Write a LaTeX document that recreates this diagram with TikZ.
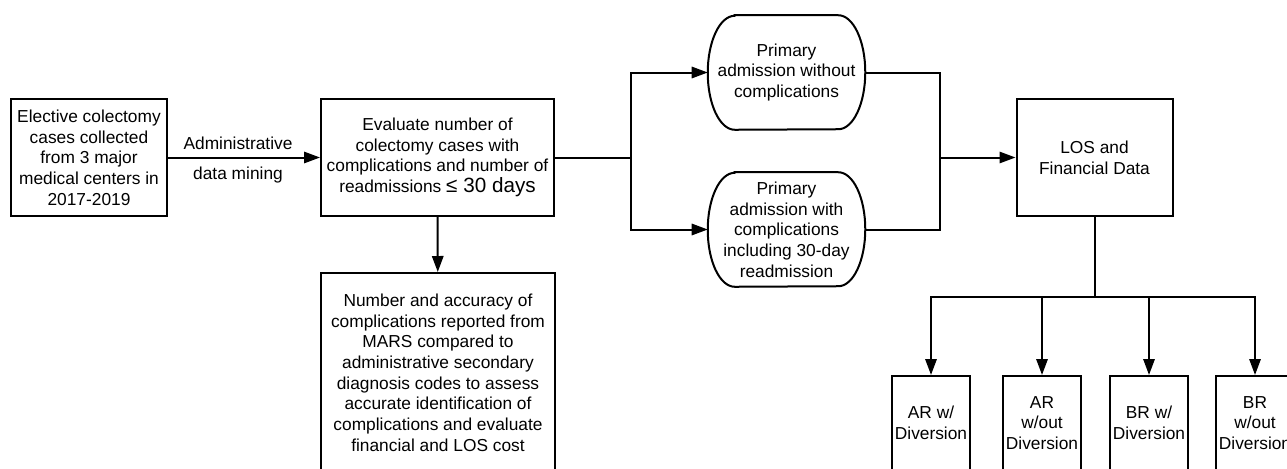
\documentclass[tikz,border=0pt]{standalone}
\usepackage{fontspec}
\setmainfont{Liberation Sans}
\usetikzlibrary{arrows.meta,calc}
\tikzset{
  ln/.style={line width=1.5pt,black},
  arr/.style={ln,-{Triangle[length=12pt,width=8.5pt]}},
  txt/.style={font=\fontsize{13pt}{15.5pt}\selectfont,align=center,inner sep=0pt},
  box/.style={txt,draw,line width=1.5pt,rectangle},
}
\newcommand\ovalframe[1]{%
  \draw[ln] ($(#1.north west)+(27,0)$) -- ($(#1.north east)+(-27,0)$)
    arc[start angle=90,end angle=-90,x radius=20.25pt,y radius=42.75pt]
    -- ($(#1.south west)+(27,0)$)
    arc[start angle=270,end angle=90,x radius=20.25pt,y radius=42.75pt] -- cycle;}
\begin{document}
\begin{tikzpicture}[x=0.75pt,y=0.75pt]
\useasboundingbox[fill=white] (0,0) rectangle (1287,-468);
% boxes
\node[box,minimum width=117pt,minimum height=87.75pt] (b1) at (89,-157.5)
  {Elective colectomy\\cases collected\\from 3 major\\medical centers in\\2017-2019};
\node[box,minimum width=174.75pt,minimum height=87.75pt] (b2) at (437.5,-157.5)
  {Evaluate number of\\colectomy cases with\\complications and number of\\readmissions {\fontsize{15.5pt}{17pt}\selectfont ≤ 30 days}};
\node[box,minimum width=175.5pt,minimum height=149.25pt] (b3) at (438,-372.5)
  {Number and accuracy of\\complications reported from\\MARS compared to\\administrative secondary\\diagnosis codes to assess\\accurate identification of\\complications and evaluate\\financial and LOS cost};
\node[txt,minimum width=117.75pt,minimum height=85.5pt] (o1) at (786.5,-72.5)
  {Primary\\admission without\\complications};
\ovalframe{o1}
\node[txt,minimum width=117.75pt,minimum height=85.5pt] (o2) at (786.5,-229.5)
  {Primary\\admission with\\complications\\including 30-day\\readmission};
\ovalframe{o2}
\node[box,minimum width=117pt,minimum height=87.75pt] (los) at (1094.5,-157.5)
  {LOS and\\Financial Data};
\node[box,minimum width=58.5pt,minimum height=70.5pt] (c1) at (931,-423) {AR w/\\Diversion};
\node[box,minimum width=58.5pt,minimum height=70.5pt] (c2) at (1042,-423) {AR\\w/out\\Diversion};
\node[box,minimum width=58.5pt,minimum height=70.5pt] (c3) at (1149,-423) {BR w/\\Diversion};
\node[box,minimum width=58.5pt,minimum height=70.5pt] (c4) at (1255,-423) {BR\\w/out\\Diversion};
% labels
\node[txt] (l1) at (238,-143) {Administrative};
\node[txt] (l2) at (238,-175) {data mining};
% connectors
\coordinate (j1) at (631,-157.5);
\coordinate (j2) at (940,-157.5);
\coordinate (j3) at (1094.5,-297);
\draw[arr] (b1) -- (b2);
\draw[arr] (b2) -- (b3);
\draw[ln] (b2.east) -- (j1);
\draw[arr] (j1) |- (o1.west);
\draw[arr] (j1) |- (o2.west);
\draw[ln] (o1.east) -| (j2);
\draw[ln] (o2.east) -| (j2);
\draw[arr] (j2) -- (los.west);
\draw[ln] (los.south) -- (j3);
\draw[arr] (j3) -| (c1.north);
\draw[arr] (j3) -| (c2.north);
\draw[arr] (j3) -| (c3.north);
\draw[arr] (j3) -| (c4.north);
\end{tikzpicture}
\end{document}
